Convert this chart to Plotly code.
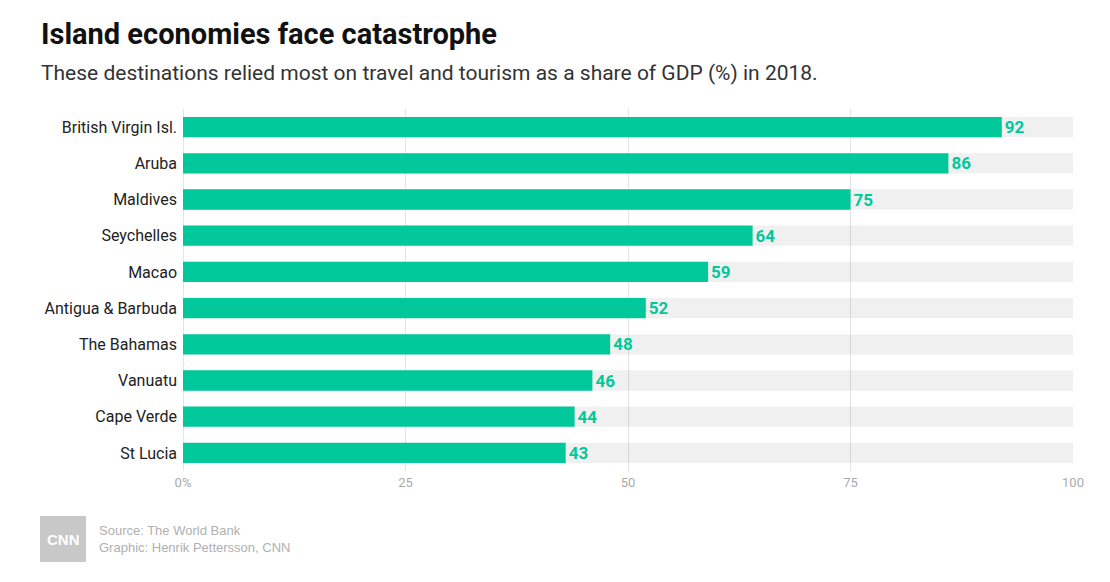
import plotly.graph_objects as go

countries = ["British Virgin Isl.", "Aruba", "Maldives", "Seychelles", "Macao",
             "Antigua & Barbuda", "The Bahamas", "Vanuatu", "Cape Verde", "St Lucia"]
share_gdp = [92, 86, 75, 64, 59, 52, 48, 46, 44, 43]
full_scale = [100] * len(countries)
tick_vals = [0, 25, 50, 75, 100]
tick_text = ["0%", "25", "50", "75", "100"]

GREEN = "#00c89b"

# page body has an 8px offset; work in window pixel coords and subtract it
OFF = 8
W, H = 1110 - OFF, 582 - OFF
L, R, T, B = 183 - OFF, 37, 109 - OFF, 111
pw, ph = W - L - R, H - T - B

fig = go.Figure()
fig.add_trace(go.Bar(
    y=countries, x=full_scale, orientation="h",
    marker=dict(color="rgba(0,0,0,0.06)", line=dict(width=0)),
    width=0.56, hoverinfo="skip", showlegend=False,
))
fig.add_trace(go.Bar(
    y=countries, x=share_gdp, orientation="h",
    marker=dict(color=GREEN, line=dict(width=0)),
    width=0.56, text=[str(v) for v in share_gdp], textposition="outside",
    textfont=dict(family="Roboto", size=17, color=GREEN, weight="bold"),
    cliponaxis=False, showlegend=False,
))

fig.update_layout(
    width=W, height=H,
    barmode="overlay",
    paper_bgcolor="white", plot_bgcolor="white",
    margin=dict(l=L, r=R, t=T, b=B),
    font=dict(family="Roboto", color="#222"),
    xaxis=dict(range=[0, 100], tickvals=tick_vals, ticktext=tick_text,
               showgrid=True, gridcolor="#e4e4e4", gridwidth=1,
               zeroline=True, zerolinecolor="#e4e4e4", zerolinewidth=1,
               tickfont=dict(family="Roboto", size=13, color="#aaaaaa"),
               ticks="", ticklabelstandoff=2, fixedrange=True),
    yaxis=dict(categoryorder="array", categoryarray=countries[::-1],
               tickfont=dict(family="Roboto", size=16, color="#222"),
               ticks="", ticklabelstandoff=5, showgrid=False, fixedrange=True),
    annotations=[
        dict(text="<b>Island economies face catastrophe</b>", x=39, y=34,
             showarrow=False, xanchor="left", yanchor="middle",
             font=dict(family="Roboto", size=29, color="#111")),
        dict(text="These destinations relied most on travel and tourism as a share of GDP (%) in 2018.",
             x=39, y=73, showarrow=False, xanchor="left", yanchor="middle",
             font=dict(family="Roboto", size=21, color="#333")),
        dict(text="Source: The World Bank<br>Graphic: Henrik Pettersson, CNN",
             x=97, y=539, showarrow=False, xanchor="left", yanchor="middle", align="left",
             font=dict(family="Liberation Sans", size=13, color="#b0b0b0")),
        dict(text="<b>CNN</b>", x=63, y=539, showarrow=False, xanchor="center", yanchor="middle",
             font=dict(family="Liberation Sans", size=15, color="white")),
    ],
    shapes=[dict(type="rect", x0=40, x1=86, y0=516, y1=562, fillcolor="#c8c8c8",
                 line=dict(width=0), layer="below")],
)

# convert window-pixel annotation/shape positions to paper coords
def px2x(px):
    return (px - OFF - L) / pw

def py2y(py):
    return (H - B - (py - OFF)) / ph

for a in fig.layout.annotations:
    a.xref = "paper"; a.yref = "paper"
    a.x = px2x(a.x)
    a.y = py2y(a.y)
for s in fig.layout.shapes:
    s.xref = "paper"; s.yref = "paper"
    x0, x1, y0, y1 = s.x0, s.x1, s.y0, s.y1
    s.x0 = px2x(x0); s.x1 = px2x(x1)
    s.y0 = py2y(y1); s.y1 = py2y(y0)

fig.write_html("out.html")
